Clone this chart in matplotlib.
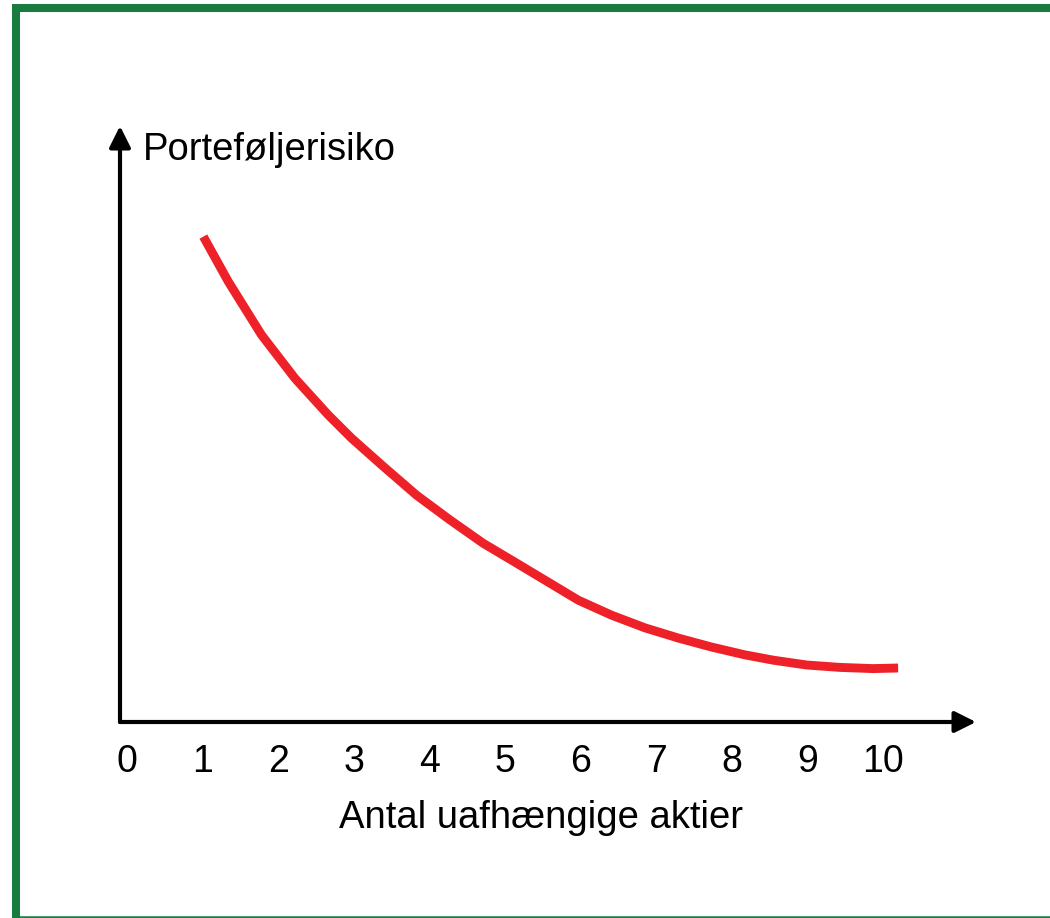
import matplotlib
matplotlib.use("Agg")
import matplotlib.pyplot as plt
from matplotlib.patches import Rectangle
from matplotlib.lines import Line2D

plt.rcParams['font.family'] = ['Liberation Sans', 'DejaVu Sans']

# ----------------------- Data -----------------------
antal_aktier = [1.01, 1.34, 1.78, 2.22, 2.66, 2.97, 3.39, 3.83, 4.27, 4.71,
                5.15, 5.60, 5.97, 6.41, 6.85, 7.29, 7.73, 8.17, 8.55, 8.99,
                9.43, 9.87, 10.2]
risiko = [8.09, 7.34, 6.45, 5.73, 5.12, 4.73, 4.26, 3.78, 3.37, 2.98,
          2.65, 2.31, 2.03, 1.78, 1.57, 1.40, 1.25, 1.12, 1.03, 0.95,
          0.91, 0.89, 0.90]
tick_values = list(range(0, 11))
tick_labels = [str(v) for v in tick_values]
x_label = "Antal uafhængige aktier"
y_label = "Porteføljerisiko"

W, H = 1050, 918
fig = plt.figure(figsize=(W / 100, H / 100), dpi=100)

# green frame: thick left and top, thin strip at the bottom, right side cut off
frame = Rectangle((16 / W, -10 / H), 1.1, (H + 2) / H, transform=fig.transFigure,
                  fill=False, edgecolor="#1a7b41", linewidth=5.8, zorder=0)
fig.patches.append(frame)
fig.lines.append(Line2D([16 / W, 1], [1.2 / H, 1.2 / H], transform=fig.transFigure,
                        color="#1a7b41", linewidth=1.8))

# axes placed so the axis lines hit the same pixels as the reference
ax = fig.add_axes([120 / W, (H - 722) / H, (976 - 120) / W, (722 - 126) / H])
ax.set_xlim(-7 / 75.6, (976 - 127) / 75.6)
ax.set_ylim(0, 596 / 60)
for s in ax.spines.values():
    s.set_visible(False)

ax.plot(antal_aktier, risiko, color="#ee2128", linewidth=6.4,
        solid_capstyle="butt", solid_joinstyle="round")

# arrow axes
arrow = dict(arrowstyle="-|>", lw=3, color="black", mutation_scale=32,
             shrinkA=0, shrinkB=0)
ax.annotate("", xy=(1, 0), xytext=(0, 0), xycoords="axes fraction",
            textcoords="axes fraction", arrowprops=arrow, annotation_clip=False)
ax.annotate("", xy=(0, 1), xytext=(0, 0), xycoords="axes fraction",
            textcoords="axes fraction", arrowprops=arrow, annotation_clip=False)

ax.set_xticks(tick_values)
ax.set_xticklabels(tick_labels)
ax.set_yticks([])
ax.tick_params(axis="x", length=0, pad=15.5, labelsize=27)

fig.text(143 / W, (H - 160) / H, y_label, fontsize=27.5, va="baseline", ha="left")
fig.text(541 / W, (H - 828) / H, x_label, fontsize=27.5, va="baseline", ha="center")

fig.savefig("out.png", dpi=100)
